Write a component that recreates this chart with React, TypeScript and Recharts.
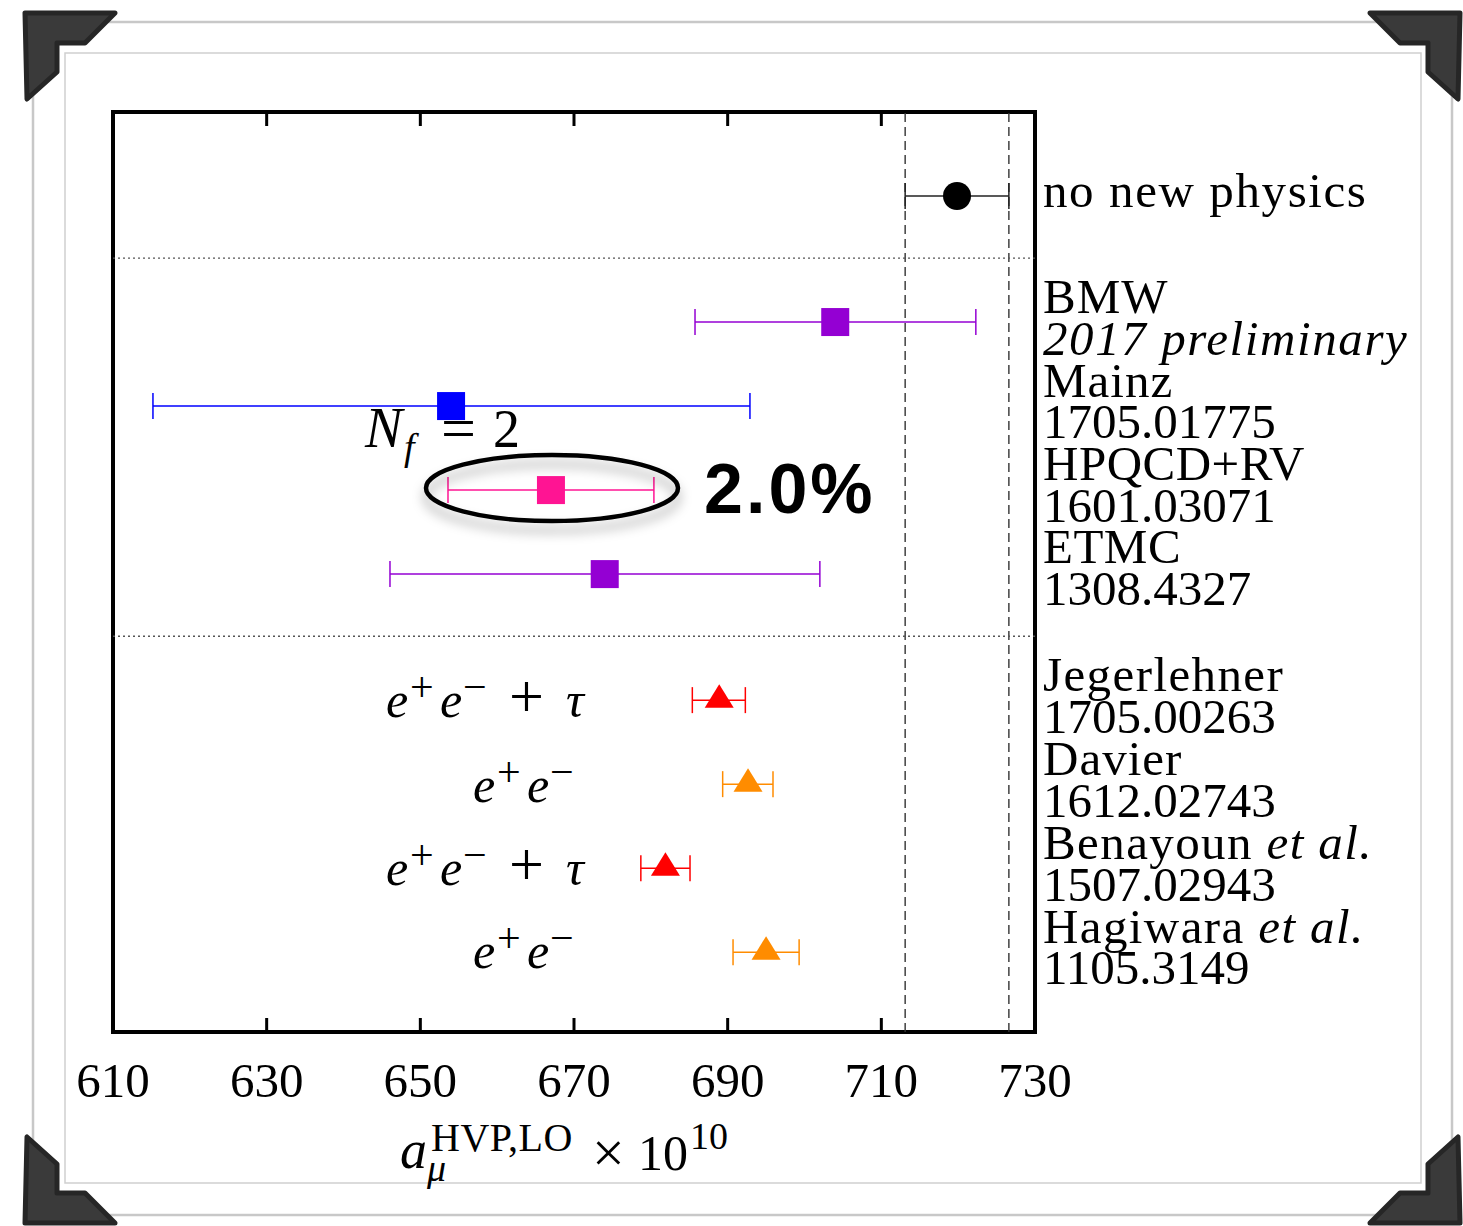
import React from "react";
import {
  ErrorBar,
  ReferenceArea,
  ReferenceLine,
  Scatter,
  ScatterChart,
  XAxis,
  YAxis,
} from "recharts";

// --- data (a_mu^HVP,LO x 10^10) ---
const entries = [
  "no new physics",
  "BMW",
  "Mainz",
  "HPQCD+RV",
  "ETMC",
  "Jegerlehner",
  "Davier",
  "Benayoun",
  "Hagiwara",
];
const centralValues = [719.85, 704.0, 654.0, 667.0, 674.0, 688.9, 692.65, 681.9, 695.0];
const lowerValues = [713.1, 685.75, 615.2, 653.6, 646.05, 685.4, 689.35, 678.7, 690.7];
const upperValues = [726.6, 722.3, 692.9, 680.4, 702.0, 692.3, 695.9, 685.1, 699.3];
const rowPositions = [1, 2.5, 3.5, 4.5, 5.5, 7, 8, 9, 10];
const markerKinds = ["circle", "square", "square", "square", "square", "triangle", "triangle", "triangle", "triangle"];
const markerColors = ["#000000", "#9400D3", "#0000FF", "#FF1493", "#9400D3", "#FF0000", "#FF8C00", "#FF0000", "#FF8C00"];
const barColors = ["#222222", "#9400D3", "#0000FF", "#FF1493", "#9400D3", "#FF0000", "#FF8C00", "#FF0000", "#FF8C00"];

const xTicks = [610, 630, 650, 670, 690, 710, 730];
const bandEdges = [713.1, 726.6];
const groupDividers = [1.74, 6.24];

const rightLabels = [
  { text: "no new physics", y: 207, ls: 1.6 },
  { text: "BMW", y: 313, ls: 1 },
  { text: "2017 preliminary", y: 355, italic: true, ls: 1.6 },
  { text: "Mainz", y: 397, ls: 1 },
  { text: "1705.01775", y: 438, ls: 0 },
  { text: "HPQCD+RV", y: 480, ls: 0.5 },
  { text: "1601.03071", y: 522, ls: 0 },
  { text: "ETMC", y: 563, ls: 0.5 },
  { text: "1308.4327", y: 605, ls: 0 },
  { text: "Jegerlehner", y: 691, ls: 1.4 },
  { text: "1705.00263", y: 733, ls: 0 },
  { text: "Davier", y: 775, ls: 1 },
  { text: "1612.02743", y: 817, ls: 0 },
  { text: "Benayoun", y: 859, tail: "et al.", ls: 1.4 },
  { text: "1507.02943", y: 901, ls: 0 },
  { text: "Hagiwara", y: 943, tail: "et al.", ls: 1.4 },
  { text: "1105.3149", y: 984, ls: 0 },
];

const SERIF = "'Liberation Serif', 'DejaVu Serif', serif";

const rows = centralValues.map((v, i) => ({
  x: v,
  y: rowPositions[i],
  err: [v - lowerValues[i], upperValues[i] - v],
}));

const makeShape = (kind: string, color: string) => (props: any) => {
  const { cx, cy } = props;
  if (kind === "circle") return <circle cx={cx} cy={cy} r={14} fill={color} />;
  if (kind === "square")
    return <rect x={cx - 14} y={cy - 14} width={28} height={28} fill={color} />;
  return (
    <polygon
      points={`${cx - 14.5},${cy + 7.5} ${cx + 14.5},${cy + 7.5} ${cx},${cy - 16}`}
      fill={color}
    />
  );
};

const AxisTick = (props: any) => {
  const { x, y, payload } = props;
  const v = payload.value;
  const inner = v !== 610 && v !== 730;
  return (
    <g>
      {inner && <line x1={x} x2={x} y1={y} y2={y - 14} stroke="#000" strokeWidth={3} />}
      {inner && <line x1={x} x2={x} y1={y - 920} y2={y - 906} stroke="#000" strokeWidth={3} />}
      <text x={x} y={y + 65} textAnchor="middle" fontFamily={SERIF} fontSize={49} fill="#000">
        {v}
      </text>
    </g>
  );
};

function Bracket({ points }: { points: number[][] }) {
  return (
    <polygon
      points={points.map((p) => p.join(",")).join(" ")}
      fill="#3a3a3a"
      stroke="#262626"
      strokeWidth={5}
      strokeLinejoin="round"
    />
  );
}

const tl = [[25, 13], [115, 13], [85, 43], [57, 43], [57, 72], [27, 99]];

function Frame() {
  const mx = (p: number[][]) => p.map(([x, y]) => [1485 - x, y]);
  const my = (p: number[][]) => p.map(([x, y]) => [x, 1236 - y]);
  return (
    <svg width={1463} height={1226} style={{ position: "absolute", left: 0, top: 0 }}>
      <rect x={33} y={22} width={1419} height={1193} fill="#fff" stroke="#c8c8c8" strokeWidth={2.5} />
      <rect x={65} y={53} width={1356} height={1130} fill="#fff" stroke="#cfcfcf" strokeWidth={1.5} />
      <Bracket points={tl} />
      <Bracket points={mx(tl)} />
      <Bracket points={my(tl)} />
      <Bracket points={my(mx(tl))} />
    </svg>
  );
}

function EePiece({ x0, base, tau }: { x0: number; base: number; tau?: boolean }) {
  return (
    <g fontFamily={SERIF} fill="#000">
      <text x={x0} y={base} fontSize={50} fontStyle="italic">e</text>
      <text x={x0 + 24} y={base - 16} fontSize={42}>+</text>
      <text x={x0 + 54} y={base} fontSize={50} fontStyle="italic">e</text>
      <text x={x0 + 77} y={base - 16} fontSize={42}>−</text>
      {tau && <text x={x0 + 123} y={base} fontSize={62}>+</text>}
      {tau && <text x={x0 + 180} y={base} fontSize={50} fontStyle="italic">τ</text>}
    </g>
  );
}

function Annotations() {
  return (
    <svg
      width={1463}
      height={1226}
      style={{ position: "absolute", left: 0, top: 0, pointerEvents: "none" }}
    >
      <defs>
        <filter id="soft" x="-20%" y="-50%" width="140%" height="220%">
          <feDropShadow dx={0} dy={9} stdDeviation={6} floodColor="#000" floodOpacity={0.35} />
        </filter>
      </defs>
      {/* right-hand labels */}
      <g fontFamily={SERIF} fontSize={49} fill="#000">
        {rightLabels.map((l) => (
          <text
            key={l.text}
            x={1043}
            y={l.y}
            letterSpacing={l.ls}
            fontStyle={l.italic ? "italic" : "normal"}
          >
            {l.text}
            {l.tail && <tspan fontStyle="italic">{" " + l.tail}</tspan>}
          </text>
        ))}
      </g>
      {/* N_f = 2 */}
      <g fontFamily={SERIF} fill="#000">
        <text x={365} y={447} fontSize={56} fontStyle="italic">N</text>
        <text x={404} y={460} fontSize={38} fontStyle="italic">f</text>
        <text x={441} y={449} fontSize={62}>=</text>
        <text x={493} y={447} fontSize={54}>2</text>
      </g>
      <ellipse cx={552} cy={488} rx={126} ry={33} fill="none" stroke="#000" strokeWidth={4.5} filter="url(#soft)" />
      <text x={704} y={513} fontFamily="'Liberation Sans', Arial, sans-serif" fontWeight="bold" fontSize={70} letterSpacing={3} fill="#000">
        2.0%
      </text>
      <EePiece x0={386} base={717} tau />
      <EePiece x0={473} base={802} />
      <EePiece x0={386} base={885} tau />
      <EePiece x0={473} base={968} />
      {/* axis title */}
      <g fontFamily={SERIF} fill="#000">
        <text x={400} y={1168} fontSize={54} fontStyle="italic">a</text>
        <text x={431} y={1151} fontSize={40} letterSpacing={0.5}>HVP,LO</text>
        <text x={427} y={1181} fontSize={38} fontStyle="italic">μ</text>
        <text x={592} y={1172} fontSize={58}>×</text>
        <text x={638} y={1170} fontSize={50}>10</text>
        <text x={690} y={1149} fontSize={38}>10</text>
      </g>
    </svg>
  );
}

export default function App() {
  return (
    <div style={{ position: "absolute", left: 0, top: 0, width: 1463, height: 1226, background: "#fff" }}>
      <Frame />
      <div style={{ position: "absolute", left: 0, top: 0 }}>
        <ScatterChart width={1463} height={1226} margin={{ top: 112, left: 113, right: 428, bottom: 134 }}>
          <XAxis
            type="number"
            dataKey="x"
            domain={[610, 730]}
            ticks={xTicks}
            height={60}
            axisLine={false}
            tickLine={false}
            tickSize={0}
            tickMargin={0}
            tick={<AxisTick />}
            interval={0}
          />
          <YAxis type="number" dataKey="y" domain={[0, 10.95]} reversed hide />
          {bandEdges.map((b) => (
            <ReferenceLine key={b} x={b} stroke="#333" strokeWidth={1.4} strokeDasharray="9 5" />
          ))}
          {groupDividers.map((d) => (
            <ReferenceLine key={d} y={d} stroke="#555" strokeWidth={1.3} strokeDasharray="2 3" />
          ))}
          <ReferenceArea x1={610} x2={730} y1={0} y2={10.95} fill="none" stroke="#000" strokeWidth={4} />
          {rows.map((r, i) => (
            <Scatter
              key={entries[i]}
              name={entries[i]}
              data={[r]}
              isAnimationActive={false}
              shape={makeShape(markerKinds[i], markerColors[i])}
            >
              <ErrorBar dataKey="err" direction="x" width={13} stroke={barColors[i]} strokeWidth={1.5} />
            </Scatter>
          ))}
        </ScatterChart>
      </div>
      <Annotations />
    </div>
  );
}
